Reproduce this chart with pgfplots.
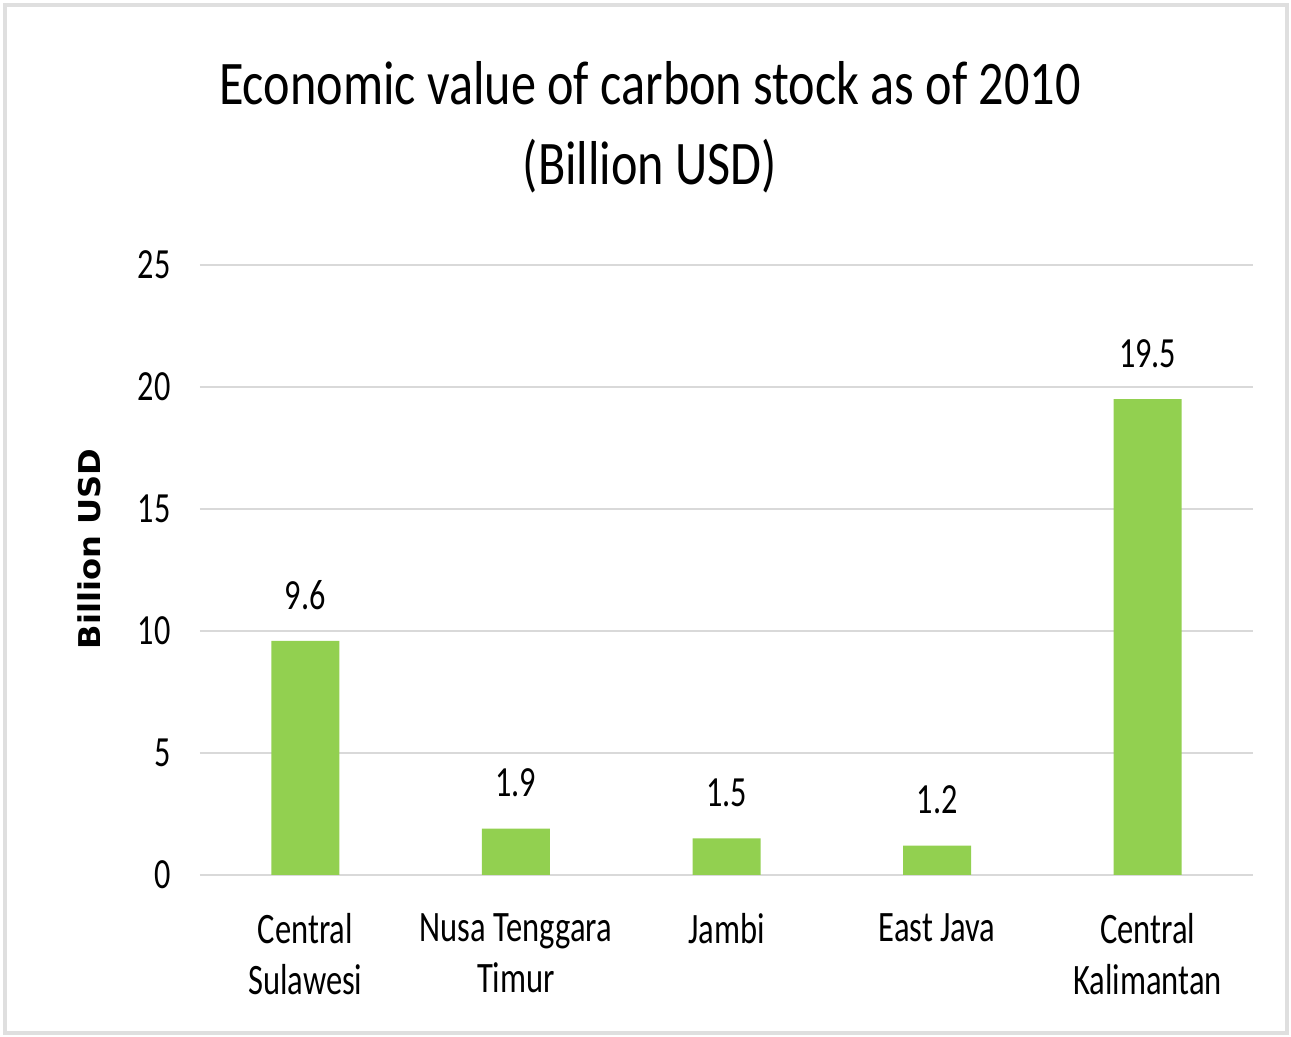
\documentclass[border=0pt]{standalone}
\usepackage{pgfplots}
\pgfplotsset{compat=1.18}
\usepackage{fontspec}
\setmainfont[FakeStretch=0.75]{Carlito}
\newfontfamily\titlefont[FakeStretch=0.81]{Carlito}
\newfontfamily\ylabfont[FakeStretch=1.07]{DejaVu Sans}
\definecolor{barg}{HTML}{92D050}
\definecolor{gridg}{HTML}{D9D9D9}
\begin{document}
\begin{tikzpicture}
\useasboundingbox (-100pt,-81pt) rectangle (545.5pt,437.5pt);
\draw[gray!25, line width=2pt] (-97.5pt,-79pt) rectangle (543.5pt,435pt);
\begin{axis}[
  scale only axis, width=526.5pt, height=305pt,
  at={(0,0)}, anchor=south west,
  xmin=-0.5, xmax=4.5, ymin=0, ymax=25,
  ytick={0,5,10,15,20,25},
  xtick={0,1,2,3,4},
  xticklabels={Central\\Sulawesi, Nusa Tenggara\\Timur, Jambi, East Java, Central\\Kalimantan},
  axis line style={draw=none},
  major tick length=0pt,
  ymajorgrids, grid style={gridg, line width=1pt},
  /pgf/number format/assume math mode=true,
  yticklabel style={font=\fontsize{21.5}{24}\selectfont, anchor=east, inner sep=0pt, xshift=-14.5pt},
  xticklabel style={font=\fontsize{21.7}{25.5}\selectfont, align=center, anchor=north, inner sep=0pt, yshift=-19pt},
  ybar, bar width=34pt,
  nodes near coords,
  nodes near coords style={font=\fontsize{21.5}{24}\selectfont, anchor=south, inner sep=0pt, yshift=15.5pt, text=black},
]
\addplot[fill=barg, draw=none] coordinates {(0,9.6) (1,1.9) (2,1.5) (3,1.2) (4,19.5)};
\end{axis}
\node[anchor=base, inner sep=0pt, font=\titlefont\fontsize{31}{36}\selectfont] at (225pt,385pt) {Economic value of carbon stock as of 2010};
\node[anchor=base, inner sep=0pt, font=\titlefont\fontsize{31}{36}\selectfont] at (225pt,345pt) {(Billion USD)};
\node[rotate=90, inner sep=0pt, font=\ylabfont\bfseries\fontsize{15}{18}\selectfont] at (-55.5pt,163pt) {Billion USD};
\end{tikzpicture}
\end{document}
